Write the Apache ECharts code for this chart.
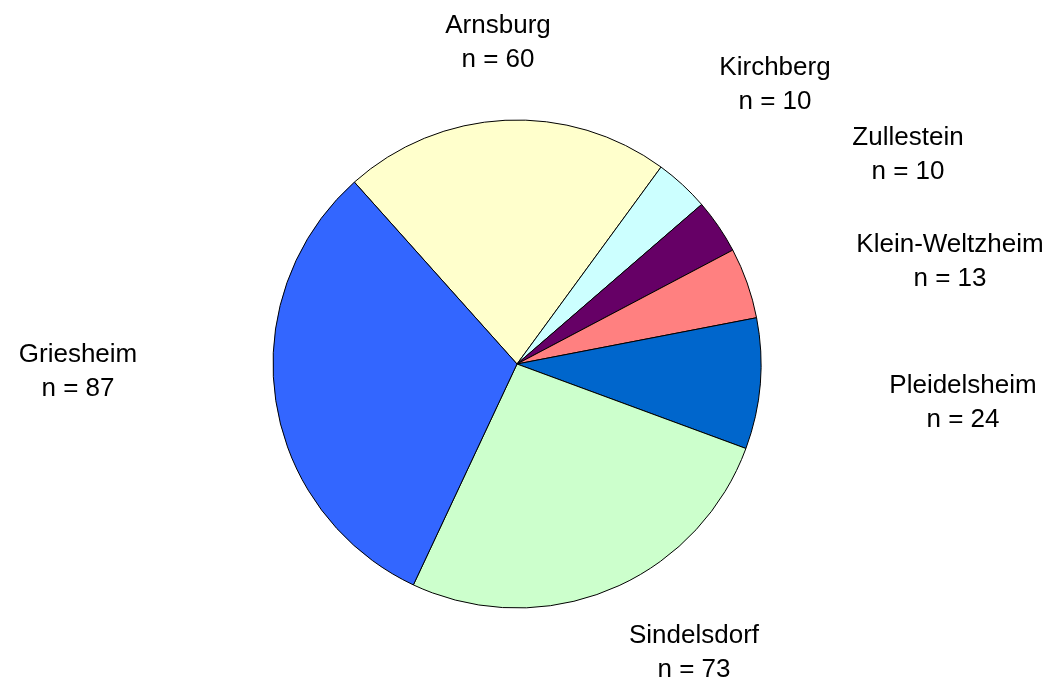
<!DOCTYPE html>
<html>
<head>
<meta charset="utf-8">
<script src="https://cdn.jsdelivr.net/npm/echarts@6/dist/echarts.min.js"></script>
<style>
  html, body { margin: 0; padding: 0; background: #fff; }
  #chart { width: 1061px; height: 684px; }
</style>
</head>
<body>
<div id="chart"></div>
<script>
// Orte und Anzahl (im Uhrzeigersinn, ab Arnsburg)
const names = ['Arnsburg', 'Kirchberg', 'Zullestein', 'Klein-Weltzheim', 'Pleidelsheim', 'Sindelsdorf', 'Griesheim'];
const counts = [60, 10, 10, 13, 24, 73, 87];
const colors = ['#FFFFCC', '#CCFFFF', '#660066', '#FF8080', '#0066CC', '#CCFFCC', '#3366FF'];

// label anchors (center of the text block), in px
const labelPos = [
  [498, 43],
  [775, 85],
  [908, 155],
  [950, 262],
  [963, 403],
  [694, 653],
  [78, 372]
];

const chart = echarts.init(document.getElementById('chart'));

chart.setOption({
  animation: false,
  series: [
    {
      type: 'pie',
      center: [517, 364],
      radius: 244,
      startAngle: 131.8,
      clockwise: true,
      avoidLabelOverlap: false,
      emphasis: { disabled: true },
      itemStyle: {
        borderColor: '#000',
        borderWidth: 1
      },
      label: {
        show: true,
        position: 'outside',
        formatter: function (p) {
          return p.name + '\nn = ' + p.value;
        },
        fontFamily: 'Liberation Sans, Arial, sans-serif',
        fontSize: 26,
        lineHeight: 34,
        color: '#000',
        align: 'center'
      },
      labelLine: { show: false },
      labelLayout: function (params) {
        const p = labelPos[params.dataIndex];
        return { x: p[0], y: p[1], align: 'center', verticalAlign: 'middle' };
      },
      data: names.map(function (n, i) {
        return { name: n, value: counts[i], itemStyle: { color: colors[i] } };
      })
    }
  ]
});
</script>
</body>
</html>
